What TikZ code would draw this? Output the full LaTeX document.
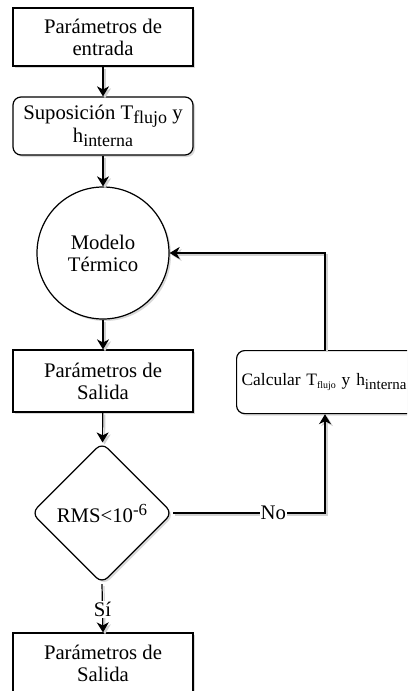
\documentclass[tikz,border=0pt]{standalone}
\usepackage{fontspec}
\setmainfont{Liberation Serif}
\usetikzlibrary{shapes.geometric,arrows.meta,shadows}
\newcommand\lowsub[3]{\raisebox{-#1}{\fontsize{#2}{#2}\selectfont #3}}
\newcommand\highsup[3]{\raisebox{#1}{\fontsize{#2}{#2}\selectfont #3}}
\begin{document}
\begin{tikzpicture}[x=1bp,y=-1bp,
  shadowed/.style={drop shadow={shadow xshift=2bp,shadow yshift=-2bp,fill=black!15,opacity=1}},
  base/.style={draw=black,line width=1.2bp,fill=white,align=center,inner sep=0pt,
    font=\fontsize{20.8}{22}\selectfont,shadowed},
  box/.style={base,rectangle,minimum width=180bp,minimum height=58bp},
  rbox/.style={box,rounded corners=8bp},
  cnode/.style={base,circle,minimum size=132bp},
  dnode/.style={base,diamond,aspect=1,minimum width=141bp,minimum height=141bp,rounded corners=8bp},
  edge/.style={draw=black,line width=1.2bp,-{Stealth[length=10bp,width=12bp,inset=3bp]},
    preaction={draw=black!18,line width=1.2bp,transform canvas={xshift=2bp,yshift=-2bp}}},
  lbl/.style={fill=white,inner sep=1bp,font=\fontsize{20.8}{22}\selectfont}
]
\useasboundingbox (0,0) rectangle (407,691);
\clip (0,0) rectangle (407,691);
\fill[white] (0,0) rectangle (407,691);

\node[box] (b1) at (103,37) {Parámetros de\\entrada};
\node[rbox] (b2) at (103,126) {Suposición T\lowsub{4bp}{18}{flujo} y\\h\lowsub{4bp}{18}{interna}};
\node[cnode] (c) at (103,253) {Modelo\\Térmico};
\node[box,minimum height=62bp] (b3) at (103,381) {Parámetros de\\Salida};
\node[base,rectangle,rounded corners=8bp,anchor=north west,minimum width=200bp,minimum height=63bp,
  text width=190bp,inner xsep=5bp,align=left,font=\fontsize{17.5}{20}\selectfont] (b4) at (236,350)
  {\raisebox{4bp}{Calcular T\lowsub{3bp}{10}{flujo} y h\lowsub{4bp}{15}{interna}}};
\node[dnode] (d) at (102,513) {RMS<10\highsup{7bp}{17}{-6}};
\node[box,minimum height=60bp] (b5) at (103,663) {Parámetros de\\Salida};

\coordinate (xr) at (325,0);

\draw[edge] (b1) -- (b2);
\draw[edge] (b2) -- (c);
\draw[edge] (c) -- (b3);
\draw[edge] (b3) -- (d);
\draw[edge] (d.east) -| node[lbl,pos=0.33] {No} (xr |- b4.south);
\draw[edge] (xr |- b4.north) |- (c.east);
\draw[edge] (d.south) -- node[lbl,pos=0.53] {Sí} (b5.north);
\end{tikzpicture}
\end{document}
